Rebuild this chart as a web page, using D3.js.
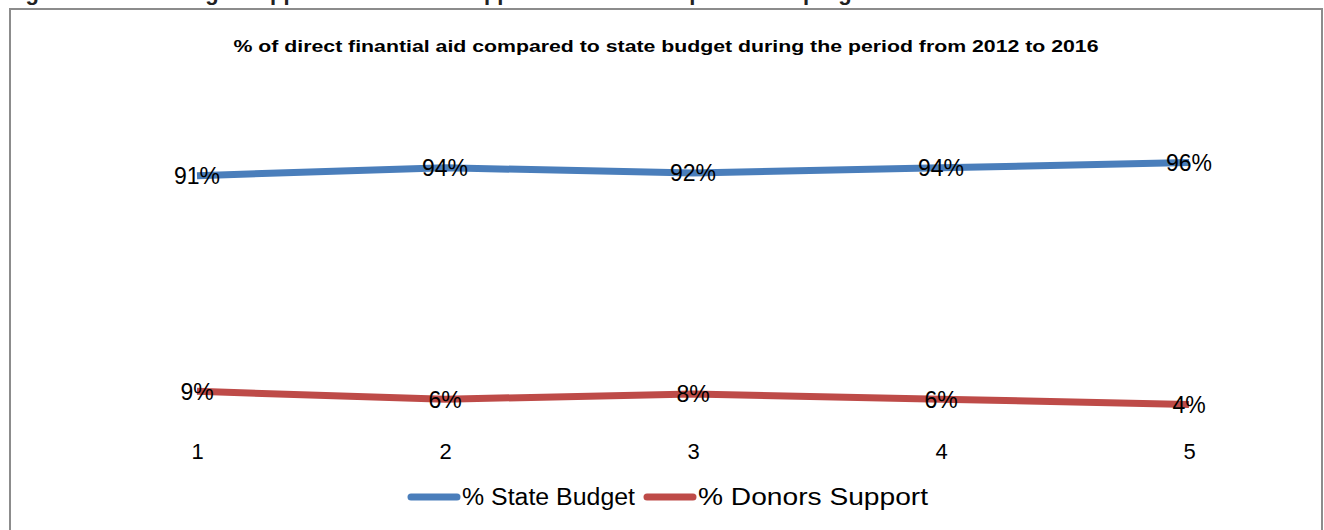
<!DOCTYPE html>
<html>
<head>
<meta charset="utf-8">
<script src="https://cdn.jsdelivr.net/npm/d3@7"></script>
<style>
  body { margin: 0; background: #fff; }
  text { font-family: "Liberation Sans", "DejaVu Sans", sans-serif; }
</style>
</head>
<body>
<div id="chart"></div>
<script>
// data
const categories = ['1', '2', '3', '4', '5']
const stateBudget = [0.91, 0.94, 0.92, 0.94, 0.96]
const donorsSupport = [0.09, 0.06, 0.08, 0.06, 0.04]
const seriesNames = ['% State Budget', '% Donors Support']
const seriesColors = ['#4a7ebb', '#be4b48']
const title = '% of direct finantial aid compared to state budget during the period from 2012 to 2016'

const width = 1324, height = 530

const svg = d3.select('#chart').append('svg')
  .attr('width', width)
  .attr('height', height)

// caption of the page above, cut off by the top edge
svg.append('text')
  .attr('x', 6)
  .attr('y', 0)
  .attr('font-size', 22)
  .attr('font-weight', 'bold')
  .attr('fill', '#222')
  .text('Figure 2: State budget support and donors support for the social protection programs')

// chart frame
svg.append('rect')
  .attr('x', 10)
  .attr('y', 9)
  .attr('width', 1312)
  .attr('height', 540)
  .attr('fill', '#fff')
  .attr('stroke', '#8c8c8c')
  .attr('stroke-width', 2)

svg.append('text')
  .attr('x', 666)
  .attr('y', 52)
  .attr('text-anchor', 'middle')
  .attr('font-size', 17)
  .attr('font-weight', 'bold')
  .attr('textLength', 865)
  .attr('lengthAdjust', 'spacingAndGlyphs')
  .text(title)

const xScale = d3.scalePoint()
  .domain(categories)
  .range([73, 1313])
  .padding(0.5)

const yScale = d3.scaleLinear()
  .domain([0, 1])
  .range([415, 152])

const xAxis = svg.append('g')
  .attr('transform', 'translate(0, 443)')
  .call(d3.axisBottom(xScale).tickSize(0).tickPadding(0))
xAxis.select('.domain').remove()
xAxis.selectAll('text')
  .attr('font-size', 22)
  .attr('fill', '#000')
  .attr('dy', '0.71em')
  .style('font-family', '"Liberation Sans", sans-serif')

const line = d3.line()
  .x((d, i) => xScale(categories[i]))
  .y((d) => yScale(d))

const allSeries = [stateBudget, donorsSupport]

allSeries.forEach((values, s) => {
  svg.append('path')
    .datum(values)
    .attr('d', line)
    .attr('fill', 'none')
    .attr('stroke', seriesColors[s])
    .attr('stroke-width', 7)
    .attr('stroke-linejoin', 'round')

  svg.selectAll('.lbl' + s)
    .data(values)
    .enter()
    .append('text')
    .attr('class', 'lbl' + s)
    .attr('x', (d, i) => xScale(categories[i]))
    .attr('y', (d) => yScale(d))
    .attr('dy', '0.36em')
    .attr('text-anchor', 'middle')
    .attr('font-size', 23)
    .style('font-family', '"Liberation Sans", sans-serif')
    .text((d) => Math.round(d * 100) + '%')
})

// legend
const legendX = [407, 643]
const legendTextLen = [173, 230]
const legend = svg.selectAll('.legend')
  .data(seriesNames)
  .enter()
  .append('g')
  .attr('class', 'legend')
  .attr('transform', (d, i) => `translate(${legendX[i]}, 497)`)

legend.append('line')
  .attr('x1', 4)
  .attr('x2', 50)
  .attr('stroke', (d, i) => seriesColors[i])
  .attr('stroke-width', 7)
  .attr('stroke-linecap', 'round')

legend.append('text')
  .attr('x', 55)
  .attr('dy', '0.36em')
  .attr('font-size', 23)
  .attr('textLength', (d, i) => legendTextLen[i])
  .attr('lengthAdjust', 'spacingAndGlyphs')
  .style('font-family', '"Liberation Sans", sans-serif')
  .text((d) => d)
</script>
</body>
</html>
